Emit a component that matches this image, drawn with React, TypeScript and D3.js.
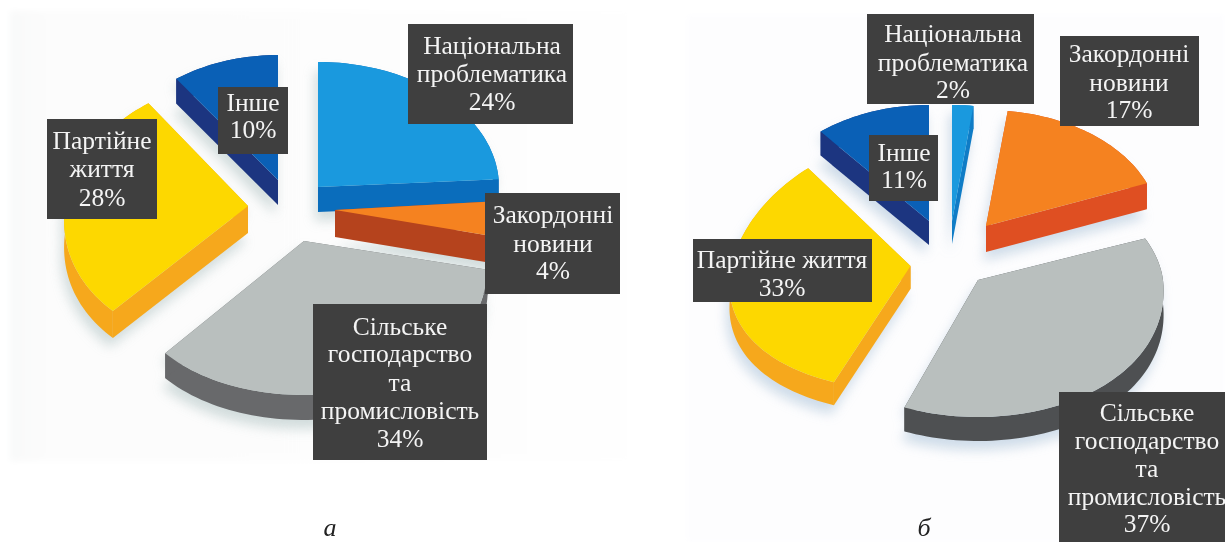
import React from "react";
import * as d3 from "d3";

// Share of each theme, in percent, for the two periods.
const themes = ["national", "foreign", "agro", "party", "other"];
const valuesA = [24, 4, 34, 28, 10];
const valuesB = [2, 17, 37, 33, 11];

const topColors = ["#1a99de", "#f58220", "#b9bfbe", "#fdd800", "#0a60b6"];
const sideColorsA = ["#0a6dbc", "#b5431d", "#68696b", "#f6a81c", "#1c3580"];
const sideColorsB = ["#0f7cc6", "#df4f22", "#4e5052", "#f6a81c", "#1c3580"];

const linesA = [
  ["Національна", "проблематика", "24%"],
  ["Закордонні", "новини", "4%"],
  ["Сільське", "господарство", "та", "промисловість", "34%"],
  ["Партійне", "життя", "28%"],
  ["Інше", "10%"],
];
const linesB = [
  ["Національна", "проблематика", "2%"],
  ["Закордонні", "новини", "17%"],
  ["Сільське", "господарство", "та", "промисловість", "37%"],
  ["Партійне життя", "33%"],
  ["Інше", "11%"],
];

// Where each exploded wedge sits: apex, radii (far and near half differ),
// horizontal perspective strength and extrusion depth.
type Wedge = { x: number; y: number; rx: number; k: number; ryB: number; ryF: number; depth: number };
const wedgesA: Wedge[] = [
  { x: 318, y: 187, rx: 181, k: 0, ryB: 125, ryF: 125, depth: 25 },
  { x: 335, y: 210, rx: 170, k: 0, ryB: 148, ryF: 148, depth: 27 },
  { x: 304, y: 241, rx: 182, k: 0.14, ryB: 125, ryF: 154, depth: 25 },
  { x: 248, y: 206, rx: 183, k: 0.1, ryB: 127, ryF: 144, depth: 27 },
  { x: 278, y: 180, rx: 173, k: 0, ryB: 125, ryF: 125, depth: 25 },
];
const wedgesB: Wedge[] = [
  { x: 952, y: 221, rx: 171, k: 0, ryB: 116, ryF: 116, depth: 23 },
  { x: 986, y: 226, rx: 173, k: 0, ryB: 116, ryF: 116, depth: 26 },
  { x: 978, y: 280, rx: 185, k: 0.08, ryB: 113, ryF: 137, depth: 24 },
  { x: 910.5, y: 266, rx: 179, k: 0.15, ryB: 127, ryF: 125, depth: 23 },
  { x: 929, y: 221, rx: 170, k: 0, ryB: 116, ryF: 116, depth: 24 },
];

// Label plates: box corners, text centre and the baseline of each line.
type Plate = { x0: number; y0: number; x1: number; y1: number; cx: number; base: number[] };
const platesA: Plate[] = [
  { x0: 408, y0: 24, x1: 573, y1: 124, cx: 492, base: [54, 82, 110] },
  { x0: 485, y0: 193, x1: 620, y1: 294, cx: 553, base: [223, 252, 279] },
  { x0: 313, y0: 304, x1: 487, y1: 460, cx: 400, base: [335, 362, 391, 419, 447] },
  { x0: 47, y0: 119, x1: 157, y1: 219, cx: 102, base: [149, 177, 206] },
  { x0: 218, y0: 87, x1: 288, y1: 154, cx: 253, base: [111, 138] },
];
const platesB: Plate[] = [
  { x0: 867, y0: 14, x1: 1034, y1: 104, cx: 953, base: [42, 71, 98] },
  { x0: 1060, y0: 36, x1: 1199, y1: 126, cx: 1129, base: [62, 91, 118] },
  { x0: 1059, y0: 392, x1: 1225, y1: 542, cx: 1147, base: [421, 449, 477, 505, 532] },
  { x0: 693, y0: 239, x1: 872, y1: 302, cx: 782, base: [268, 296] },
  { x0: 869, y0: 135, x1: 938, y1: 201, cx: 904, base: [161, 188] },
];

const paintOrder = [0, 4, 3, 1, 2];
const line = d3.line<[number, number]>();

function Pie({ values, wedges, plates, lines, sides, shadow }: {
  values: number[]; wedges: Wedge[]; plates: Plate[]; lines: string[][]; sides: string[]; shadow: string;
}) {
  // Clockwise from twelve o'clock, in the order the themes are listed.
  const arcs = d3.pie<number>().sort(null)(values);

  const shapes = arcs.map((a, i) => {
    const w = wedges[i];
    const project = (t: number, drop = 0): [number, number] => {
      const c = Math.cos(t);
      return [w.x + (w.rx * Math.sin(t)) / (1 + w.k * c), w.y - (c > 0 ? w.ryB : w.ryF) * c + drop];
    };
    const steps = Math.max(4, Math.ceil((a.endAngle - a.startAngle) / 0.03));
    const angle = d3.scaleLinear().domain([0, steps]).range([a.startAngle, a.endAngle]);
    const ts = d3.range(steps + 1).map((k) => angle(k));
    const rim = ts.map((t) => project(t));
    const rimLow = ts.map((t) => project(t, w.depth));
    const apex: [number, number] = [w.x, w.y];
    const apexLow: [number, number] = [w.x, w.y + w.depth];
    return {
      top: line([apex, ...rim])! + "Z",
      outer: line([...rim, ...[...rimLow].reverse()])! + "Z",
      startWall: line([apex, rim[0], rimLow[0], apexLow])! + "Z",
      endWall: line([apex, rim[steps], rimLow[steps], apexLow])! + "Z",
      low: line([apexLow, ...rimLow])! + "Z",
    };
  });

  return (
    <g>
      <g filter="url(#soft)" opacity={0.7}>
        {shapes.map((s, i) => (
          <g key={themes[i]} transform="translate(-3,9)" fill={shadow}>
            <path d={s.low} />
            <path d={s.top} />
          </g>
        ))}
      </g>
      {paintOrder.map((i) => (
        <g key={themes[i]}>
          <g fill={sides[i]}>
            <path d={shapes[i].outer} />
            <path d={shapes[i].startWall} />
            <path d={shapes[i].endWall} />
          </g>
          <path d={shapes[i].top} fill={topColors[i]} />
        </g>
      ))}
      {plates.map((p, i) => (
        <g key={themes[i]}>
          <rect x={p.x0} y={p.y0} width={p.x1 - p.x0} height={p.y1 - p.y0} fill="#3f3f3f" />
          {lines[i].map((t, k) => (
            <text key={k} x={p.cx} y={p.base[k]} textAnchor="middle" fontSize={25.5}
              fontFamily="'Liberation Serif', serif" fill="#f4f4f4">{t}</text>
          ))}
        </g>
      ))}
    </g>
  );
}

export default function App() {
  return (
    <svg width={1225} height={542} viewBox="0 0 1225 542"
      style={{ position: "absolute", left: 0, top: 0, display: "block", background: "#fff" }}>
      <defs>
        <filter id="soft" x="-10%" y="-10%" width="120%" height="120%">
          <feGaussianBlur stdDeviation="6" />
        </filter>
        <filter id="edge" x="-5%" y="-5%" width="110%" height="110%">
          <feGaussianBlur stdDeviation="3" />
        </filter>
        <linearGradient id="panelA" x1="0" x2="1" y1="0" y2="0">
          <stop offset="0" stopColor="#f8f9f9" />
          <stop offset="0.06" stopColor="#fcfcfc" />
          <stop offset="1" stopColor="#fefefe" />
        </linearGradient>
      </defs>
      <rect x={10} y={11} width={620} height={450} fill="url(#panelA)" filter="url(#edge)" />
      <rect x={687} y={15} width={538} height={527} fill="#fdfdfe" filter="url(#edge)" />
      <Pie values={valuesA} wedges={wedgesA} plates={platesA} lines={linesA} sides={sideColorsA} shadow="#c0cfcf" />
      <Pie values={valuesB} wedges={wedgesB} plates={platesB} lines={linesB} sides={sideColorsB} shadow="#bccfe0" />
      <text x={330} y={536} textAnchor="middle" fontSize={26} fontStyle="italic"
        fontFamily="'Liberation Serif', serif" fill="#222">а</text>
      <text x={924} y={536} textAnchor="middle" fontSize={26} fontStyle="italic"
        fontFamily="'Liberation Serif', serif" fill="#222">б</text>
    </svg>
  );
}
